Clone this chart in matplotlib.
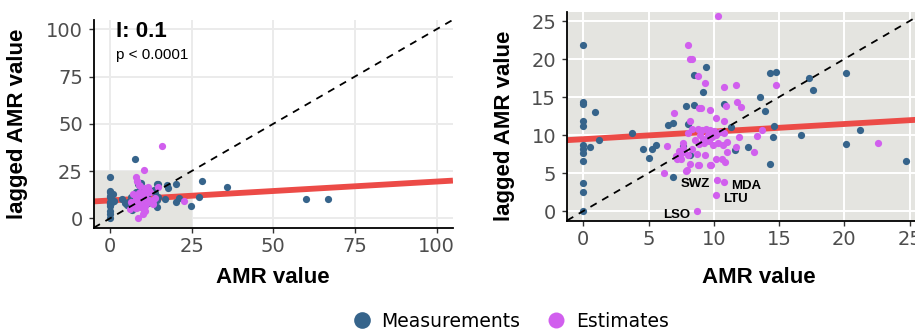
import matplotlib
matplotlib.use("Agg")
import matplotlib.pyplot as plt
from matplotlib.lines import Line2D
from matplotlib.patches import Rectangle

plt.rcParams["font.family"] = ["Liberation Sans", "DejaVu Sans"]

# measurements (blue)
meas_x = [0, 0, 0, 0, 0, 0, 0, 0, 0, 0, 0, 0, 0.5, 0.9, 1.2, 3.7, 4.6, 5.05,
          5.3, 5.6, 6.5, 6.9, 6.85, 7.6, 7.9, 8.0, 8.2, 8.5, 8.5, 9.2, 9.4,
          10.8, 11.3, 11.6, 12.6, 13.5, 13.9, 14.3, 14.8, 14.6, 14.5, 14.3,
          16.7, 17.3, 17.6, 20.1, 20.1, 21.2, 24.7, 27.2, 28.3, 35.9, 59.9,
          66.7, 7.65]
meas_y = [21.8, 14.3, 14.1, 11.9, 11.2, 8.7, 8.2, 7.6, 6.6, 3.7, 2.5, 0.0,
          8.4, 13.0, 9.4, 10.2, 8.2, 7.0, 8.2, 8.7, 11.3, 11.6, 4.5, 8.5, 13.8,
          11.5, 7.4, 14.0, 17.9, 15.6, 18.9, 14.1, 11.1, 8.0, 8.4, 15.0, 13.2,
          18.1, 18.3, 11.2, 9.8, 6.2, 10.0, 17.5, 15.9, 18.1, 8.8, 10.7, 6.6,
          11.4, 19.9, 16.4, 10.1, 10.4, 31.2]

# estimates (purple)
est_x = [10.3, 8.0, 8.15, 8.3, 8.8, 9.3, 10.8, 11.7, 14.8, 11.8, 12.1, 10.9,
         8.9, 9.0, 9.7, 6.95, 10.2, 10.8, 8.15, 13.7, 13.3, 11.9, 13.1, 11.7,
         22.6, 6.4, 6.15, 7.9, 8.9, 9.75, 10.27, 10.8, 10.2, 8.7, 16.0,
         8.05, 8.35, 8.76, 9.07, 9.37, 9.7, 10.04, 8.94, 9.2, 9.53, 9.83,
         10.2, 10.47, 10.8, 8.56, 8.86, 9.27, 9.63, 9.96, 10.34, 10.73, 10.98,
         10.6, 10.85, 10.2, 9.7, 8.8, 8.17, 7.92, 9.32, 8.3, 8.05, 8.68, 10.98,
         7.1, 7.3, 7.5, 7.6, 7.4, 7.7, 7.6, 7.2]
est_y = [25.7, 21.9, 20.0, 20.0, 17.8, 16.9, 16.3, 16.6, 16.6, 14.4, 13.7, 13.8,
         13.6, 13.5, 13.3, 12.9, 12.3, 11.9, 11.9, 10.7, 9.9, 9.8, 7.7, 8.4,
         9.0, 8.5, 5.0, 5.3, 6.0, 6.1, 4.05, 3.8, 2.1, 0.05, 38.3,
         10.3, 10.8, 10.75, 10.6, 10.75, 10.6, 10.5, 9.96, 9.5, 10.0, 9.74,
         9.96, 10.4, 10.3, 9.3, 8.86, 9.0, 9.17, 8.64, 9.0, 8.64, 7.77,
         6.9, 6.45, 6.9, 6.1, 6.0, 6.2, 5.35, 7.33, 8.2, 7.33, 7.55, 9.08,
         7.2, 7.9, 6.9, 8.3, 7.4, 7.7, 9.0, 6.8]

# labelled estimates
lab_names = ["SWZ", "MDA", "LTU", "LSO"]
lab_x = [10.27, 10.8, 10.2, 8.7]
lab_y = [4.05, 3.8, 2.1, 0.05]
lab_side = ["left", "right", "right", "left"]

intercept = 9.45
slope_I = 0.1
p_text = "p < 0.0001"

BLUE = "#36648B"
PURPLE = "#D15FEE"
RED = "#EC4B47"
PANEL = "#E4E4E0"
TICK_COL = "#4D4D4D"
TICK_FONT = "DejaVu Sans"

fig = plt.figure(figsize=(9.15, 3.32), dpi=100)
ax1 = fig.add_axes([0.1024, 0.3139, 0.3926, 0.6265])
ax2 = fig.add_axes([0.6197, 0.3358, 0.4200, 0.6295])


def style(ax, ticks, xlim, ylim, grid_col, bg):
    ax.set_facecolor(bg)
    ax.set_xlim(xlim)
    ax.set_ylim(ylim)
    ax.set_xticks(ticks)
    ax.set_yticks(ticks)
    ax.grid(True, color=grid_col, linewidth=1.4, zorder=0)
    ax.set_axisbelow(True)
    for s in ["top", "right"]:
        ax.spines[s].set_visible(False)
    for s in ["left", "bottom"]:
        ax.spines[s].set_linewidth(1.3)
        ax.spines[s].set_color("black")
    ax.tick_params(direction="out", length=3.5, width=1.0, color="#333333",
                   labelcolor=TICK_COL, labelsize=14)
    ax.tick_params(axis="x", pad=3.0)
    ax.tick_params(axis="y", pad=4.3)
    for lab in ax.get_xticklabels() + ax.get_yticklabels():
        lab.set_family(TICK_FONT)
    ax.set_xlabel("AMR value", fontsize=16, fontweight="bold")
    ax.set_ylabel("lagged AMR value", fontsize=16, fontweight="bold")


def draw(ax):
    ax.axline((0, intercept), slope=slope_I, color=RED, linewidth=4.2,
              zorder=2, solid_capstyle="butt")
    ax.scatter(meas_x, meas_y, s=27, color=BLUE, linewidths=0, zorder=3)
    ax.scatter(est_x, est_y, s=27, color=PURPLE, linewidths=0, zorder=3)
    ax.axline((0, 0), slope=1, color="black", linewidth=1.3,
              linestyle=(0, (4, 3.5)), zorder=4)


# left panel: full range
style(ax1, [0, 25, 50, 75, 100], (-5, 105), (-5, 105), "#EBEBEB", "white")
ax1.add_patch(Rectangle((-5, -5), 30, 30, facecolor=PANEL, edgecolor="none",
                        zorder=1))
draw(ax1)
ax1.text(0.063, 0.919, f"I: {slope_I}", transform=ax1.transAxes,
         fontsize=16, fontweight="bold", va="baseline", ha="left")
ax1.text(0.061, 0.81, p_text, transform=ax1.transAxes,
         fontsize=11, va="baseline", ha="left")
ax1.xaxis.set_label_coords(0.5, -0.188)
ax1.yaxis.set_label_coords(-0.183, 0.5)

# right panel: zoom on 0-25
style(ax2, [0, 5, 10, 15, 20, 25], (-1.25, 28.2), (-1.25, 26.25), "white", PANEL)
draw(ax2)
for name, x, y, side in zip(lab_names, lab_x, lab_y, lab_side):
    off = -5 if side == "left" else 5
    ax2.annotate(name, (x, y), xytext=(off, -3), textcoords="offset points",
                 ha="right" if side == "left" else "left", va="center",
                 fontsize=9.5, fontweight="bold", zorder=5)
ax2.xaxis.set_label_coords(0.5, -0.221)
ax2.yaxis.set_label_coords(-0.135, 0.4536)

handles = [
    Line2D([], [], marker="o", linestyle="none", markersize=12,
           markerfacecolor=BLUE, markeredgewidth=0, label="Measurements"),
    Line2D([], [], marker="o", linestyle="none", markersize=11.5,
           markerfacecolor=PURPLE, markeredgewidth=0, label="Estimates"),
]
fig.legend(handles=handles, loc="center", bbox_to_anchor=(0.557, 0.033),
           ncol=2, frameon=False, handletextpad=0.45, columnspacing=1.3,
           handlelength=1.2, borderaxespad=0,
           prop={"family": TICK_FONT, "size": 13.5})

fig.savefig("out.png", dpi=100)
